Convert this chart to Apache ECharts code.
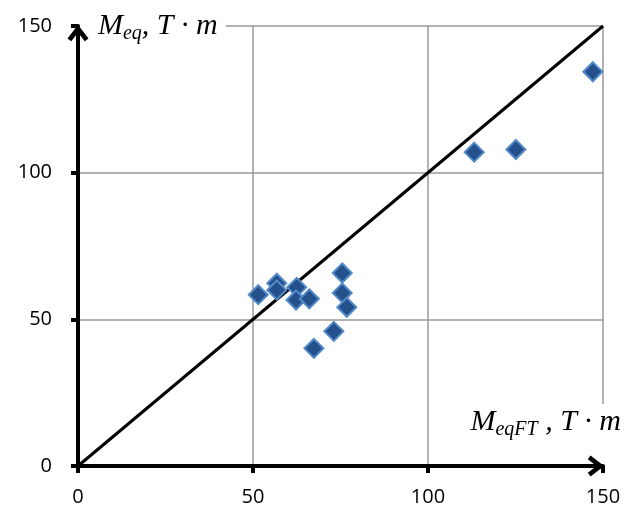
<!DOCTYPE html>
<html>
<head>
<meta charset="utf-8">
<script src="https://cdn.jsdelivr.net/npm/echarts@6/dist/echarts.min.js"></script>
<style>
  html, body { margin: 0; padding: 0; background: #fff; }
  #chart { width: 636px; height: 515px; }
</style>
</head>
<body>
<div id="chart"></div>
<script>
  // measured points: M_eqFT (x) vs M_eq (y)
  var mEqFT = [51.5, 56.8, 56.8, 62.5, 62.3, 66.1, 75.5, 75.5, 76.8, 73.1, 67.4, 113.2, 125.1, 147.1]
  var mEq = [58.4, 62.3, 60.0, 60.9, 56.6, 57.0, 65.8, 59.0, 54.1, 45.9, 40.1, 107.0, 107.9, 134.4]
  // reference line y = x
  var diagX = [0, 150]
  var diagY = [0, 150]

  var points = mEqFT.map(function (x, i) { return [x, mEq[i]] })
  var diag = diagX.map(function (x, i) { return [x, diagY[i]] })

  // open chevron arrow head, pointing up
  var arrowPath = 'path://M10,0 L20,13 L16.4,15.6 L10,7.4 L3.6,15.6 L0,13 Z'

  var serif = '"Liberation Serif", "DejaVu Serif", serif'
  var sans = '"Open Sans", "Liberation Sans", sans-serif'

  var nameRich = {
    m: { fontFamily: serif, fontStyle: 'italic', fontSize: 30, color: '#000' },
    s: { fontFamily: serif, fontStyle: 'italic', fontSize: 20, color: '#000', padding: [16, 0, 0, 0] },
    t: { fontFamily: serif, fontStyle: 'italic', fontSize: 30, color: '#000' }
  }

  var chart = echarts.init(document.getElementById('chart'))
  chart.setOption({
    animation: false,
    backgroundColor: '#fff',
    grid: {
      left: 78,
      right: 33,
      top: 26,
      bottom: 49,
      containLabel: false
    },
    xAxis: {
      type: 'value',
      min: 0,
      max: 150,
      interval: 50,
      name: '{m|M}{s|eqFT}{t| , T · m}',
      nameLocation: 'end',
      nameGap: 18,
      nameTextStyle: {
        align: 'right',
        verticalAlign: 'bottom',
        padding: [0, 0, 26, 0],
        backgroundColor: '#fff',
        rich: nameRich
      },
      axisLine: {
        lineStyle: { color: '#000', width: 4 },
        symbol: ['none', arrowPath],
        symbolSize: [21, 17],
        symbolOffset: [0, -7]
      },
      axisTick: { show: true, length: 7, lineStyle: { color: '#000', width: 4 } },
      axisLabel: {
        fontFamily: sans,
        fontSize: 20,
        color: '#000',
        margin: 21
      },
      splitLine: { show: true, lineStyle: { color: '#999', width: 1.5 } }
    },
    yAxis: {
      type: 'value',
      min: 0,
      max: 150,
      interval: 50,
      name: '{m|M}{s|eq}{t|, T · m}',
      nameLocation: 'end',
      nameGap: 0,
      nameTextStyle: {
        align: 'left',
        verticalAlign: 'middle',
        padding: [0, 8, 0, 20],
        backgroundColor: '#fff',
        rich: nameRich
      },
      axisLine: {
        lineStyle: { color: '#000', width: 4 },
        symbol: ['none', arrowPath],
        symbolSize: [21, 17],
        symbolOffset: [0, -7]
      },
      axisTick: { show: true, length: 7, lineStyle: { color: '#000', width: 4 } },
      axisLabel: {
        fontFamily: sans,
        fontSize: 20,
        color: '#000',
        margin: 26
      },
      splitLine: { show: true, lineStyle: { color: '#999', width: 1.5 } }
    },
    series: [
      {
        type: 'line',
        data: diag,
        symbol: 'none',
        lineStyle: { color: '#000', width: 3 },
        z: 3
      },
      {
        type: 'scatter',
        data: points,
        symbol: 'diamond',
        symbolSize: 19,
        itemStyle: {
          color: '#24508c',
          borderColor: '#5289c8',
          borderWidth: 2,
          opacity: 1
        },
        z: 4
      }
    ]
  })
</script>
</body>
</html>
